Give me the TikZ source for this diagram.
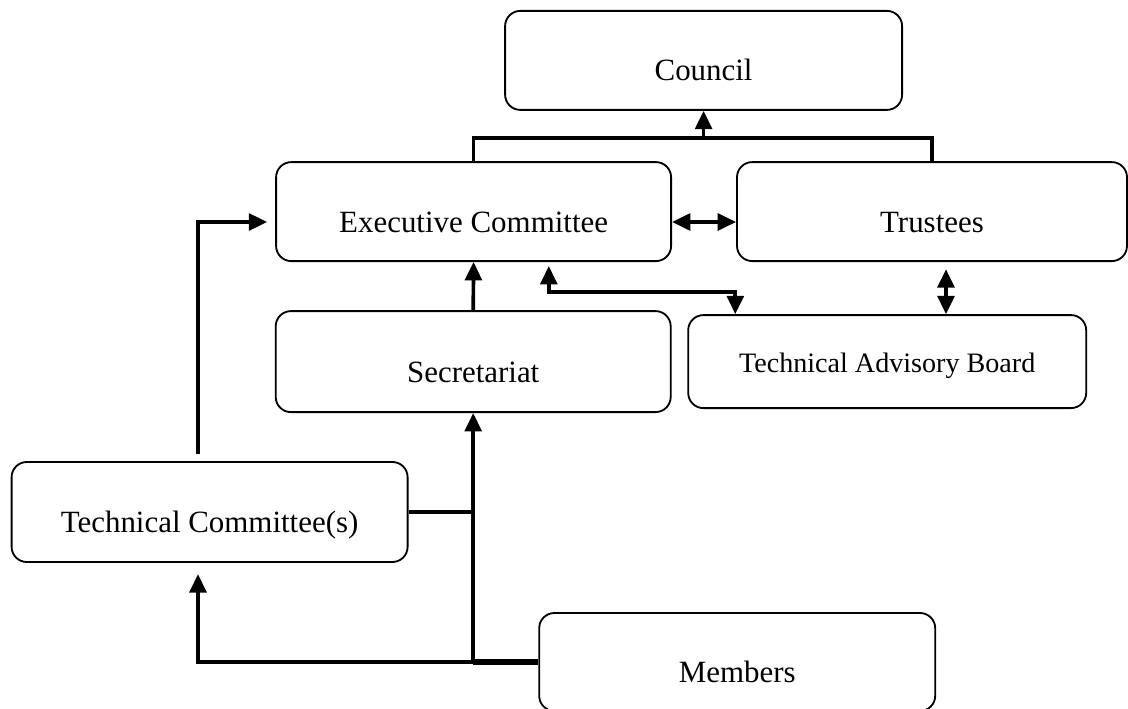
\documentclass[tikz,border=0pt]{standalone}
\usepackage{fontspec}
\setmainfont{Liberation Serif}
\usetikzlibrary{arrows.meta,calc}

\begin{document}
\begin{tikzpicture}[>={Triangle[length=.46cm,width=.42cm]},
	box/.style={draw,line width=1.3pt,rounded corners=.38cm,minimum height=2.475cm,
		font=\fontsize{22}{26}\selectfont,text height=1.03cm,text depth=0pt},
	link/.style={line width=2.6pt}]
	\useasboundingbox (0,0) rectangle (28.2,-17.725);

	% boites
	\node[box,minimum width=9.925cm] (council) at (17.59,-1.51) {Council};
	\node[box,minimum width=9.875cm] (exec) at (11.84,-5.29) {Executive Committee};
	\node[box,minimum width=9.75cm] (trustees) at (23.3,-5.29) {Trustees};
	\node[box,minimum width=9.875cm,minimum height=2.525cm] (secr) at (11.83,-9.04) {Secretariat};
	\node[box,minimum width=9.95cm,minimum height=2.325cm,font=\fontsize{20}{24}\selectfont,
		text height=.55cm] (tab) at (22.18,-9.04) {Technical Advisory Board};
	\node[box,minimum width=9.9cm,minimum height=2.5cm] (tc) at (5.24,-12.8) {Technical Committee(s)};
	\node[box,minimum width=9.9cm,minimum height=2.45cm] (members) at (18.43,-16.55) {Members};

	% vers le conseil
	\coordinate (join) at ($(exec.north)+(0,.575)$);
	\draw[link] (exec.north) -- (join) -| (trustees.north);
	\draw[link,->] (council.south |- join) -- (council.south);

	% executif - trustees - board
	\draw[link,<->] ([yshift=-.26cm]exec.east) -- ([yshift=-.26cm]trustees.west);
	\draw[link,<->] ([xshift=1.88cm,yshift=-.1cm]exec.south) -- ++(0,-.65)
		-| ([xshift=1.2cm]tab.north west);
	\draw[link,<->] ([xshift=.35cm,yshift=-.18cm]trustees.south) -- ([xshift=.35cm]trustees.south |- tab.north);

	% secretariat
	\draw[link,->] (secr.north) -- (exec.south);

	% comites techniques
	\draw[link,->] ([xshift=-.29cm,yshift=.18cm]tc.north) |- ([xshift=-.2cm,yshift=-.26cm]exec.west);
	\draw[link] (tc.east) -- (tc.east -| secr.south);

	% membres
	\draw[link,->] (members.west) -| (secr.south);
	\draw[link,->] (members.west) -| ([xshift=-.29cm,yshift=-.28cm]tc.south);
	\draw[line width=4pt] (members.west) -- (members.west -| secr.south);

\end{tikzpicture}
\end{document}
